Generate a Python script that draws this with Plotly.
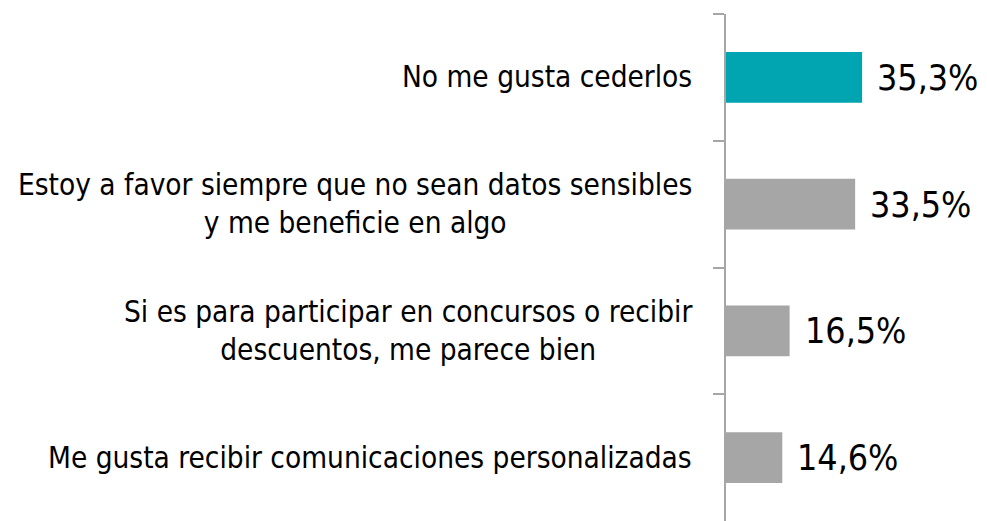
import plotly.graph_objects as go

categories = [
    "No me gusta cederlos",
    "Estoy a favor siempre que no sean datos sensibles<br>y me beneficie en algo",
    "Si es para participar en concursos o recibir<br>descuentos, me parece bien",
    "Me gusta recibir comunicaciones personalizadas",
]
values = [35.3, 33.5, 16.5, 14.6]
value_labels = ["35,3%", "33,5%", "16,5%", "14,6%"]
colors = ["#00A5B1", "#A6A6A6", "#A6A6A6", "#A6A6A6"]

ids = [f"c{i}" for i in range(len(categories))]
FONT = "Liberation Sans Narrow, DejaVu Sans Condensed, sans-serif"

fig = go.Figure()
fig.add_trace(go.Bar(
    y=ids, x=values, orientation="h",
    marker=dict(color=colors, line=dict(width=0)),
    width=0.40,
    hoverinfo="skip",
))

annotations = []
for cid, cat in zip(ids, categories):
    annotations.append(dict(
        x=0, y=cid, xref="x", yref="y", text=cat, showarrow=False,
        xanchor="right", yanchor="middle", align="center", xshift=-32,
        font=dict(family=FONT, size=29.5, color="#000000"),
    ))
for cid, v, lab in zip(ids, values, value_labels):
    annotations.append(dict(
        x=v, y=cid, xref="x", yref="y", text=lab, showarrow=False,
        xanchor="left", yanchor="middle", xshift=13,
        font=dict(family=FONT, size=35.5, color="#000000"),
    ))

fig.update_layout(
    width=987, height=521,
    margin=dict(l=726, r=0, t=14, b=0),
    paper_bgcolor="white", plot_bgcolor="white",
    showlegend=False,
    annotations=annotations,
    xaxis=dict(range=[0, 67.7], visible=False, showgrid=False, zeroline=False),
    yaxis=dict(
        type="category", autorange="reversed",
        categoryorder="array", categoryarray=ids,
        showticklabels=False, showgrid=False, zeroline=False,
        showline=True, linecolor="#A6A6A6", linewidth=1.5,
        ticks="outside", ticklen=11, tickcolor="#A6A6A6", tickwidth=1.5,
        tickson="boundaries",
    ),
)

fig.write_html(
    "out.html",
    config={"displayModeBar": False},
    post_script="document.body.style.margin='0';document.body.style.overflow='hidden';",
)
